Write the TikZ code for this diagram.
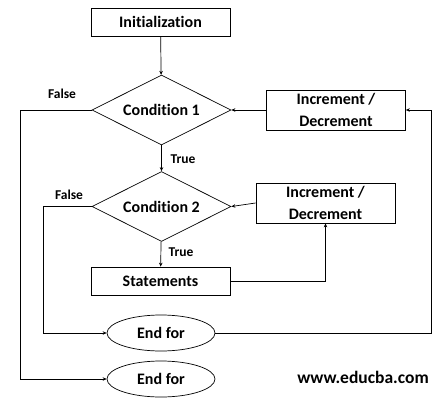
\documentclass[tikz,border=0pt]{standalone}
\usepackage{fontspec}
\setmainfont{Carlito}[Ligatures=NoCommon]
\usetikzlibrary{shapes.geometric,arrows.meta}
\begin{document}
\begin{tikzpicture}[x=1pt,y=-1pt,
  every node/.style={font=\bfseries\fontsize{16}{22}\selectfont},
  box/.style={draw,minimum width=139pt,minimum height=28pt,inner sep=0pt,align=center,line width=0.7pt},
  dia/.style={draw,diamond,aspect=2,minimum width=139pt,minimum height=70pt,inner sep=0pt,line width=0.7pt},
  term/.style={draw,ellipse,minimum width=108pt,minimum height=36pt,inner sep=0pt,line width=0.7pt},
  lbl/.style={font=\bfseries\fontsize{13.5}{15}\selectfont,inner sep=0pt},
  conn/.style={line width=0.7pt},
  arr/.style={conn,-{Stealth[length=4pt,width=3.5pt]}}]
\useasboundingbox[fill=white] (0,0) rectangle (443,406);
\node[box] (init) at (160.5,22) {Initialization};
\node[dia] (c1) at (161.5,110) {Condition 1};
\node[box,minimum height=40pt] (inc1) at (336,110) {Increment /\\Decrement};
\node[dia] (c2) at (161.5,206.5) {Condition 2};
\node[box,minimum height=40pt] (inc2) at (325.5,203) {Increment /\\Decrement};
\node[box] (stm) at (160.5,281) {Statements};
\node[term] (e1) at (161,333) {End for};
\node[term] (e2) at (161,379) {End for};
\node[font=\bfseries\fontsize{17.5}{20}\selectfont] (web) at (363,377) {www.educba.com};
\node[lbl] (f1) at (62,94) {False};
\node[lbl] (f2) at (69,195) {False};
\node[lbl] (t1) at (183,159) {True};
\node[lbl] (t2) at (181,252) {True};
\coordinate (l1) at (20,110);
\coordinate (l2) at (43,206.5);
\coordinate (r) at (431,333);
\draw[arr] (init) -- (c1);
\draw[arr] (c1) -- (c2);
\draw[arr] (inc1.west) -- (c1.east);
\draw[arr] (inc2.west) -- (c2.east);
\draw[arr] (c2) -- (stm);
\draw[arr] (stm.east) -| (inc2.south);
\draw[arr] (e1.east) -- (r) |- (inc1.east);
\draw[arr] (c1.west) -- (l1) |- (e2.west);
\draw[arr] (c2.west) -- (l2) |- (e1.west);
\end{tikzpicture}
\end{document}
